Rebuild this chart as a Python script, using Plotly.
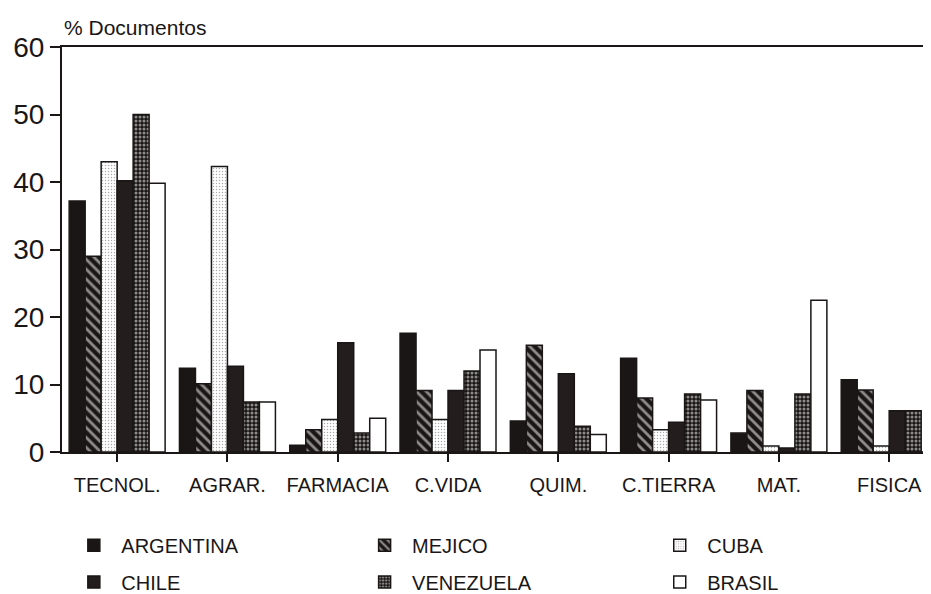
import plotly.graph_objects as go

categories = ["TECNOL.", "AGRAR.", "FARMACIA", "C.VIDA", "QUIM.", "C.TIERRA", "MAT.", "FISICA"]

argentina = [37.2, 12.4, 1.0, 17.6, 4.6, 13.9, 2.8, 10.7]
mejico    = [29.0, 10.1, 3.3, 9.1, 15.8, 8.0, 9.1, 9.2]
cuba      = [43.0, 42.3, 4.8, 4.8, 0.0, 3.3, 0.9, 0.9]
chile     = [40.2, 12.7, 16.2, 9.1, 11.6, 4.4, 0.6, 6.1]
venezuela = [50.0, 7.4, 2.8, 12.0, 3.8, 8.6, 8.6, 6.1]
brasil    = [39.8, 7.4, 5.0, 15.1, 2.6, 7.7, 22.5, 0.0]

y_ticks = [0, 10, 20, 30, 40, 50, 60]

FONT = "Liberation Sans, Arial, sans-serif"
INK = "#1a1616"

series = [
    ("ARGENTINA", argentina, dict(color=INK)),
    ("MEJICO", mejico, dict(color=INK, pattern=dict(shape="\\", fgcolor="white", bgcolor=INK, size=7, solidity=0.4))),
    ("CUBA", cuba, dict(color="white", pattern=dict(shape=".", fgcolor="#555", bgcolor="white", size=3, solidity=0.2))),
    ("CHILE", chile, dict(color="#231d1d")),
    ("VENEZUELA", venezuela, dict(color=INK, pattern=dict(shape=".", fgcolor="white", bgcolor=INK, size=4, solidity=0.45))),
    ("BRASIL", brasil, dict(color="white")),
]

# legend grid positions in paper coordinates
leg_x = [0.005, 0.340, 0.680, 0.005, 0.340, 0.680]
leg_y = [-0.23, -0.23, -0.23, -0.321, -0.321, -0.321]

fig = go.Figure()
layout_legends = {}
for i, (name, vals, mk) in enumerate(series):
    mk = dict(mk)
    mk["line"] = dict(color=INK, width=1.5)
    lname = "legend" if i == 0 else f"legend{i+1}"
    fig.add_trace(go.Bar(x=categories, y=vals, name=name, marker=mk, legend=lname, showlegend=True))
    layout_legends[lname] = dict(
        x=leg_x[i], y=leg_y[i],
        xanchor="left", yanchor="middle",
        font=dict(family=FONT, size=20, color=INK),
        bgcolor="rgba(0,0,0,0)", itemwidth=45,
    )

fig.update_layout(
    width=931, height=594,
    margin=dict(l=54, r=9, t=39, b=150, autoexpand=False),
    showlegend=True,
    paper_bgcolor="white", plot_bgcolor="white",
    barmode="group", bargap=0.13, bargroupgap=0.0,
    font=dict(family=FONT, color=INK),
    xaxis=dict(
        type="category", range=[-0.5, 7.37],
        showline=True, linecolor=INK, linewidth=2, mirror=True,
        ticks="outside", ticklen=8, tickwidth=1.5, tickcolor=INK,
        ticklabelstandoff=6,
        tickfont=dict(family=FONT, size=20, color=INK),
        showgrid=False, zeroline=False,
    ),
    yaxis=dict(
        range=[0, 60], tickvals=y_ticks,
        showline=True, linecolor=INK, linewidth=2,
        ticks="outside", ticklen=10, tickwidth=1.5, tickcolor=INK,
        tickfont=dict(family=FONT, size=28, color=INK),
        showgrid=False, zeroline=False,
    ),
    annotations=[dict(
        text="% Documentos", xref="paper", yref="paper", x=0, y=1,
        xanchor="left", yanchor="bottom", yshift=6, showarrow=False,
        font=dict(family=FONT, size=21, color=INK),
    )],
    **layout_legends,
)

fig.write_html("out.html")
